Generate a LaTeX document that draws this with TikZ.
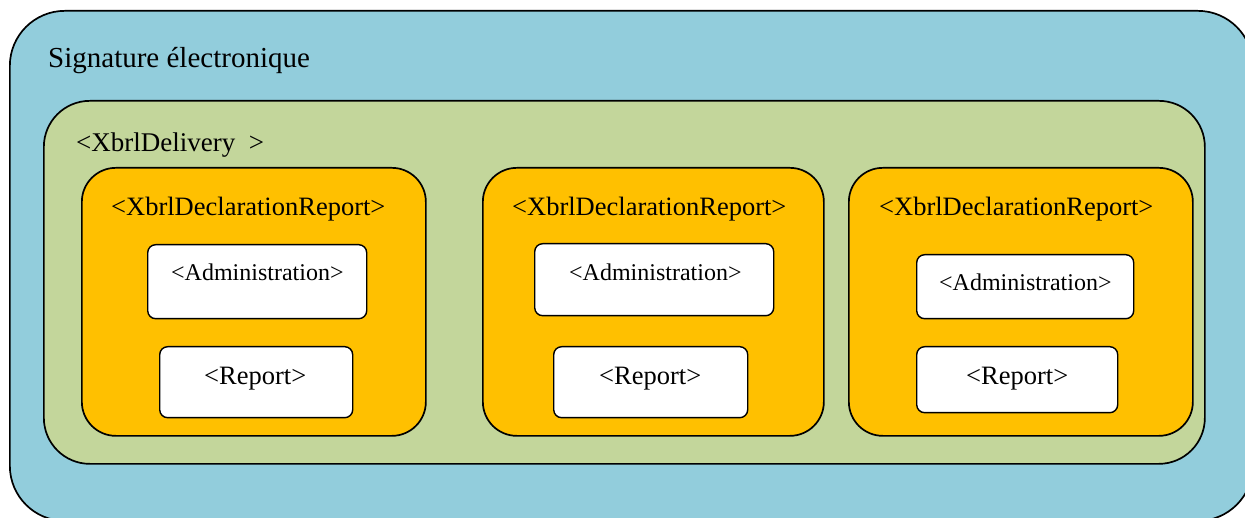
\documentclass[tikz,border=0pt]{standalone}
\usepackage{fontspec}
\setmainfont{Liberation Serif}
\usetikzlibrary{positioning}

\definecolor{sigblue}{HTML}{92CDDC}
\definecolor{delivgreen}{HTML}{C3D69B}
\definecolor{reportorange}{HTML}{FFC000}

\begin{document}
\begin{tikzpicture}[
    x=1pt,y=-1pt,
    box/.style={draw=black,line width=1.7pt,inner sep=0pt,anchor=north west},
    sigbox/.style={box,fill=sigblue,rounded corners=55pt},
    delivbox/.style={box,fill=delivgreen,rounded corners=46pt},
    reportbox/.style={box,fill=reportorange,rounded corners=34pt},
    partbox/.style={box,fill=white,line width=1.4pt,rounded corners=8pt},
    tag/.style={inner sep=0pt,anchor=base west},
    ]
    % Page frame, the outer box runs off the right and bottom edge
    \clip (0,0) rectangle (1245,518);

    % Signature
    \node[sigbox,minimum width=1243,minimum height=510] (sig) at (9,10) {};
    \node[tag,font=\fontsize{29}{34}\selectfont] (sigtitle) at (48,68) {Signature électronique};

    % Delivery
    \node[delivbox,minimum width=1161,minimum height=363] (deliv) at (43,100) {};
    \node[tag,font=\fontsize{27}{32}\selectfont] (delivtitle) at (76,152) {<XbrlDelivery~~>};

    % First declaration report
    \node[reportbox,minimum width=344,minimum height=268] (rep1) at (81,167) {};
    \node[tag,font=\fontsize{26.5}{31}\selectfont] (rep1title) at (111,216) {<XbrlDeclarationReport>};
    \node[partbox,minimum width=219,minimum height=74] (adm1) at (147,244) {};
    \node[tag,font=\fontsize{24}{28}\selectfont] (adm1text) at (171,281) {<Administration>};
    \node[partbox,minimum width=193,minimum height=71] (body1) at (159,346) {};
    \node[tag,font=\fontsize{26.5}{31}\selectfont] (body1text) at (204,385) {<Report>};

    % Second declaration report
    \node[reportbox,minimum width=341,minimum height=268] (rep2) at (482,167) {};
    \node[tag,font=\fontsize{26.5}{31}\selectfont] (rep2title) at (512,216) {<XbrlDeclarationReport>};
    \node[partbox,minimum width=239,minimum height=72] (adm2) at (534,243) {};
    \node[tag,font=\fontsize{24}{28}\selectfont] (adm2text) at (569,281) {<Administration>};
    \node[partbox,minimum width=194,minimum height=71] (body2) at (553,346) {};
    \node[tag,font=\fontsize{26.5}{31}\selectfont] (body2text) at (599,385) {<Report>};

    % Third declaration report
    \node[reportbox,minimum width=344,minimum height=268] (rep3) at (848,167) {};
    \node[tag,font=\fontsize{26.5}{31}\selectfont] (rep3title) at (879,216) {<XbrlDeclarationReport>};
    \node[partbox,minimum width=217,minimum height=64] (adm3) at (916,254) {};
    \node[tag,font=\fontsize{24}{28}\selectfont] (adm3text) at (939,291) {<Administration>};
    \node[partbox,minimum width=201,minimum height=66] (body3) at (916,346) {};
    \node[tag,font=\fontsize{26.5}{31}\selectfont] (body3text) at (966,385) {<Report>};

\end{tikzpicture}
\end{document}
